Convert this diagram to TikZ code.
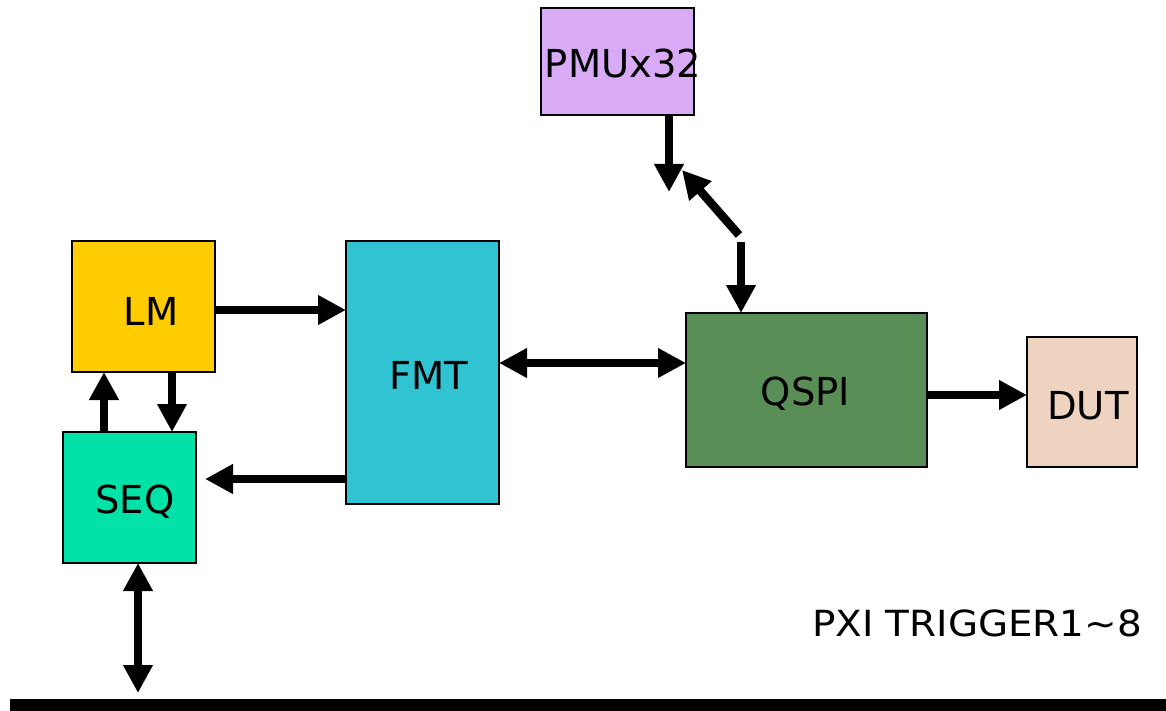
\documentclass[tikz,border=0pt]{standalone}
\usepackage{fontspec}
\setmainfont{DejaVu Sans}
\usetikzlibrary{arrows.meta}
\definecolor{pmuc}{HTML}{D9AAF5}
\definecolor{lmc}{HTML}{FFCC00}
\definecolor{seqc}{HTML}{00E2A8}
\definecolor{fmtc}{HTML}{30C4D3}
\definecolor{qspic}{HTML}{5A8E57}
\definecolor{dutc}{HTML}{EED3C0}
\begin{document}
\begin{tikzpicture}[x=1pt,y=-1pt,
  box/.style={draw=black, line width=1.2pt, inner sep=0pt, outer sep=0pt},
  lbl/.style={font=\fontsize{38.5}{42}\selectfont, anchor=base, inner sep=0pt},
  conn/.style={line width=8.5pt, -{Triangle[length=28pt,width=28pt]}},
  biconn/.style={line width=8.5pt, {Triangle[length=28pt,width=28pt]}-{Triangle[length=28pt,width=28pt]}}]
\useasboundingbox (0,0) rectangle (1166,711);
% boxes
\node[box, fill=pmuc, minimum width=153pt, minimum height=107pt] (pmu) at (617.5,61.5) {};
\node[box, fill=lmc, minimum width=143pt, minimum height=131pt] (lm) at (143.5,306.5) {};
\node[box, fill=seqc, minimum width=133pt, minimum height=131pt] (seq) at (129.5,497.5) {};
\node[box, fill=fmtc, minimum width=153pt, minimum height=263pt] (fmt) at (422.5,372.5) {};
\node[box, fill=qspic, minimum width=241pt, minimum height=154pt] (qspi) at (806.5,390) {};
\node[box, fill=dutc, minimum width=110pt, minimum height=130pt] (dut) at (1082,402) {};
\node[fill=black, inner sep=0pt, outer sep=0pt, minimum width=1156pt, minimum height=12pt] (bus) at (588,705) {};
% labels
\node[lbl] (pmut) at (623,78) {PMUx32};
\node[lbl] (lmt) at (151,325) {LM};
\node[lbl] (seqt) at (135,513) {SEQ};
\node[lbl] (fmtt) at (429,389) {FMT};
\node[lbl] (qspit) at (805.5,405) {QSPI};
\node[lbl] (dutt) at (1088,419) {DUT};
\node[lbl, font=\fontsize{36}{40}\selectfont] (pxit) at (977,636) {\scalebox{1.08}[1]{PXI TRIGGER1\char"007E 8}};
% free ends
\coordinate (pmuend) at (669,192);
\coordinate (diagA) at (739,235);
\coordinate (diagB) at (682,170);
\coordinate (qsA) at (741,242);
\coordinate (seqin) at (205,479);
\coordinate (busend) at (138,693);
% connectors
\draw[conn] (lm.east |- 0,310) -- (fmt.west |- 0,310);
\draw[conn] (lm.south -| 172,0) -- (seq.north -| 172,0);
\draw[conn] (seq.north -| 104,0) -- (lm.south -| 104,0);
\draw[conn] (fmt.west |- seqin) -- (seqin);
\draw[biconn] (fmt.east |- 0,363) -- (qspi.west |- 0,363);
\draw[conn] (qspi.east |- 0,395) -- (dut.west |- 0,395);
\draw[biconn] (seq.south -| busend) -- (busend);
\draw[conn] (pmu.south -| pmuend) -- (pmuend);
\draw[conn] (diagA) -- (diagB);
\draw[conn] (qsA) -- (qspi.north -| qsA);
\end{tikzpicture}
\end{document}
